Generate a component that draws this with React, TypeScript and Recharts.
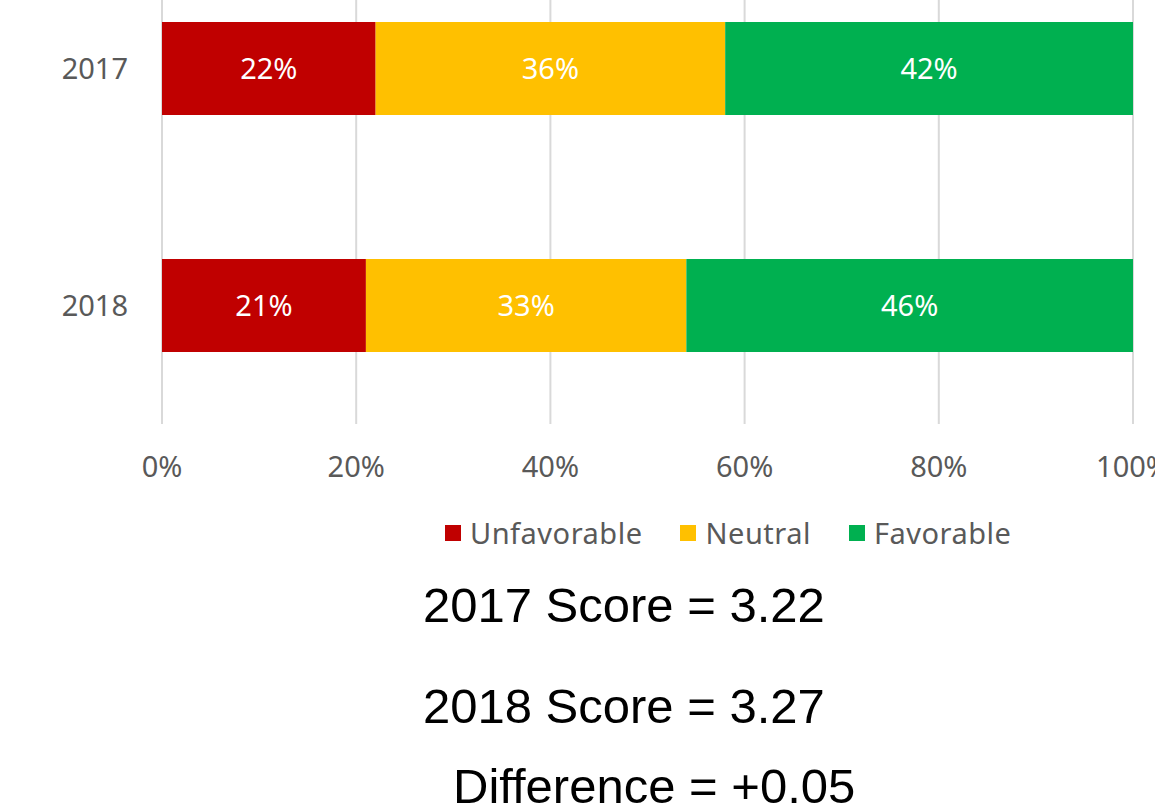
import React from "react"
import { BarChart, Bar, XAxis, YAxis, CartesianGrid, LabelList } from "recharts"

const years = ["2017", "2018"]
const unfavorable = [22, 21]
const neutral = [36, 33]
const favorable = [42, 46]
const xTicks = [0, 20, 40, 60, 80, 100]
const seriesNames = ["Unfavorable", "Neutral", "Favorable"]
const seriesColors = ["#C00000", "#FFC000", "#00B050"]
const scoreLines = ["2017 Score = 3.22", "2018 Score = 3.27", "Difference = +0.05"]

const data = years.map((year, i) => ({
  year,
  Unfavorable: unfavorable[i],
  Neutral: neutral[i],
  Favorable: favorable[i],
}))

const tickFont = { fill: "#595959", fontSize: 29, fontFamily: "Noto Sans" }
const pct = (v: any) => `${v}%`

function Legend() {
  return (
    <div style={{ position: "absolute", left: 445, top: 514, display: "flex", alignItems: "center", fontFamily: "Noto Sans", fontSize: 29, letterSpacing: 0.5, color: "#595959", lineHeight: "38px", whiteSpace: "nowrap" }}>
      {seriesNames.map((name, i) => (
        <div key={name} style={{ display: "flex", alignItems: "center", marginRight: 38 }}>
          <span style={{ width: 16, height: 16, background: seriesColors[i], marginRight: 9, display: "inline-block" }} />
          <span>{name}</span>
        </div>
      ))}
    </div>
  )
}

export default function App() {
  return (
    <div style={{ position: "absolute", left: 0, top: 0, width: 1155, height: 809, overflow: "hidden", background: "#fff" }}>
      <div style={{ position: "absolute", left: 0, top: -50 }}>
        <BarChart width={1155} height={534} data={data} layout="vertical" margin={{ top: 0, right: 22, left: 0, bottom: 0 }}>
          <CartesianGrid horizontal={false} stroke="#D9D9D9" strokeWidth={2} />
          <XAxis
            type="number"
            domain={[0, 100]}
            ticks={xTicks}
            interval={0}
            tickFormatter={pct}
            axisLine={false}
            tickLine={false}
            tickSize={0}
            tickMargin={32}
            height={60}
            tick={tickFont}
          />
          <YAxis
            type="category"
            dataKey="year"
            width={162}
            axisLine={false}
            tickLine={false}
            tickSize={0}
            tickMargin={34}
            tick={tickFont}
          />
          {seriesNames.map((name, i) => (
            <Bar key={name} dataKey={name} stackId="a" fill={seriesColors[i]} barSize={93} isAnimationActive={false}>
              <LabelList dataKey={name} position="center" formatter={pct} fill="#FFFFFF" fontSize={29} fontFamily="Noto Sans" />
            </Bar>
          ))}
        </BarChart>
      </div>
      <Legend />
      {scoreLines.map((line, i) => (
        <div
          key={line}
          style={{
            position: "absolute",
            left: i === 2 ? 453 : 423,
            top: [580, 681, 761][i],
            fontFamily: "Liberation Sans",
            fontSize: 49,
            lineHeight: "50px",
            color: "#000",
            whiteSpace: "nowrap",
          }}
        >
          {line}
        </div>
      ))}
    </div>
  )
}
